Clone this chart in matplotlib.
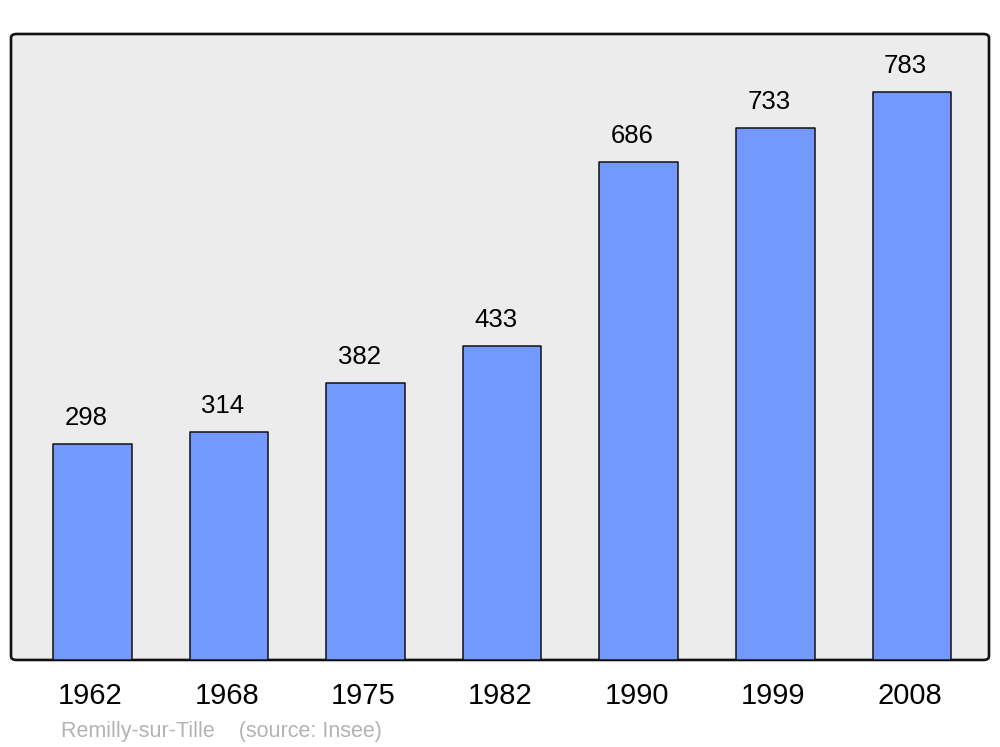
#population bar chart for Remilly-sur-Tille

import matplotlib.pyplot as plt
import matplotlib.transforms as mtransforms
from matplotlib.patches import FancyBboxPatch

years = ['1962', '1968', '1975', '1982', '1990', '1999', '2008']
population = [298, 314, 382, 433, 686, 733, 783]

plt.rcParams['font.family'] = ['Liberation Sans', 'DejaVu Sans']

fig = plt.figure(figsize=(10, 7.47), dpi=100)
ax = fig.add_axes([0.011, 0.1165, 0.978, 0.838])
ax.set_facecolor('none')
for spine in ax.spines.values():
    spine.set_visible(False)

#rounded frame behind the bars
frame = FancyBboxPatch((0, 0), 1, 1, boxstyle='round,pad=0,rounding_size=0.006',
                       transform=ax.transAxes, facecolor='#ececec',
                       edgecolor='#111111', linewidth=1.9, zorder=0, clip_on=False)
ax.add_patch(frame)

x = list(range(len(years)))
bars = ax.bar(x, population, width=0.575, color='#7399ff', edgecolor='#111111',
              linewidth=1.1, zorder=2)
for b in bars:
    b.set_joinstyle('round')

#value labels sit a little left of the bar centre in the original
for xi, v in zip(x, population):
    ax.annotate(str(v), (xi, v), xytext=(-4.5, 10), textcoords='offset points',
                ha='center', va='bottom', fontsize=18.5)

ax.set_xlim(-0.595, 6.565)
ax.set_ylim(0, 863)
ax.set_xticks(x)
ax.set_xticklabels(years, fontsize=21)
ax.tick_params(axis='x', length=0, pad=16)
ax.set_yticks([])

#nudge year labels slightly left
shift = mtransforms.ScaledTranslation(-2 / 100, 0, fig.dpi_scale_trans)
for lbl in ax.get_xticklabels():
    lbl.set_transform(lbl.get_transform() + shift)

fig.text(0.061, 0.021, 'Remilly-sur-Tille    (source: Insee)', color='#b3b3b3',
         fontsize=15.5, va='center', ha='left')

fig.savefig('out.png', dpi=100, facecolor='white')
